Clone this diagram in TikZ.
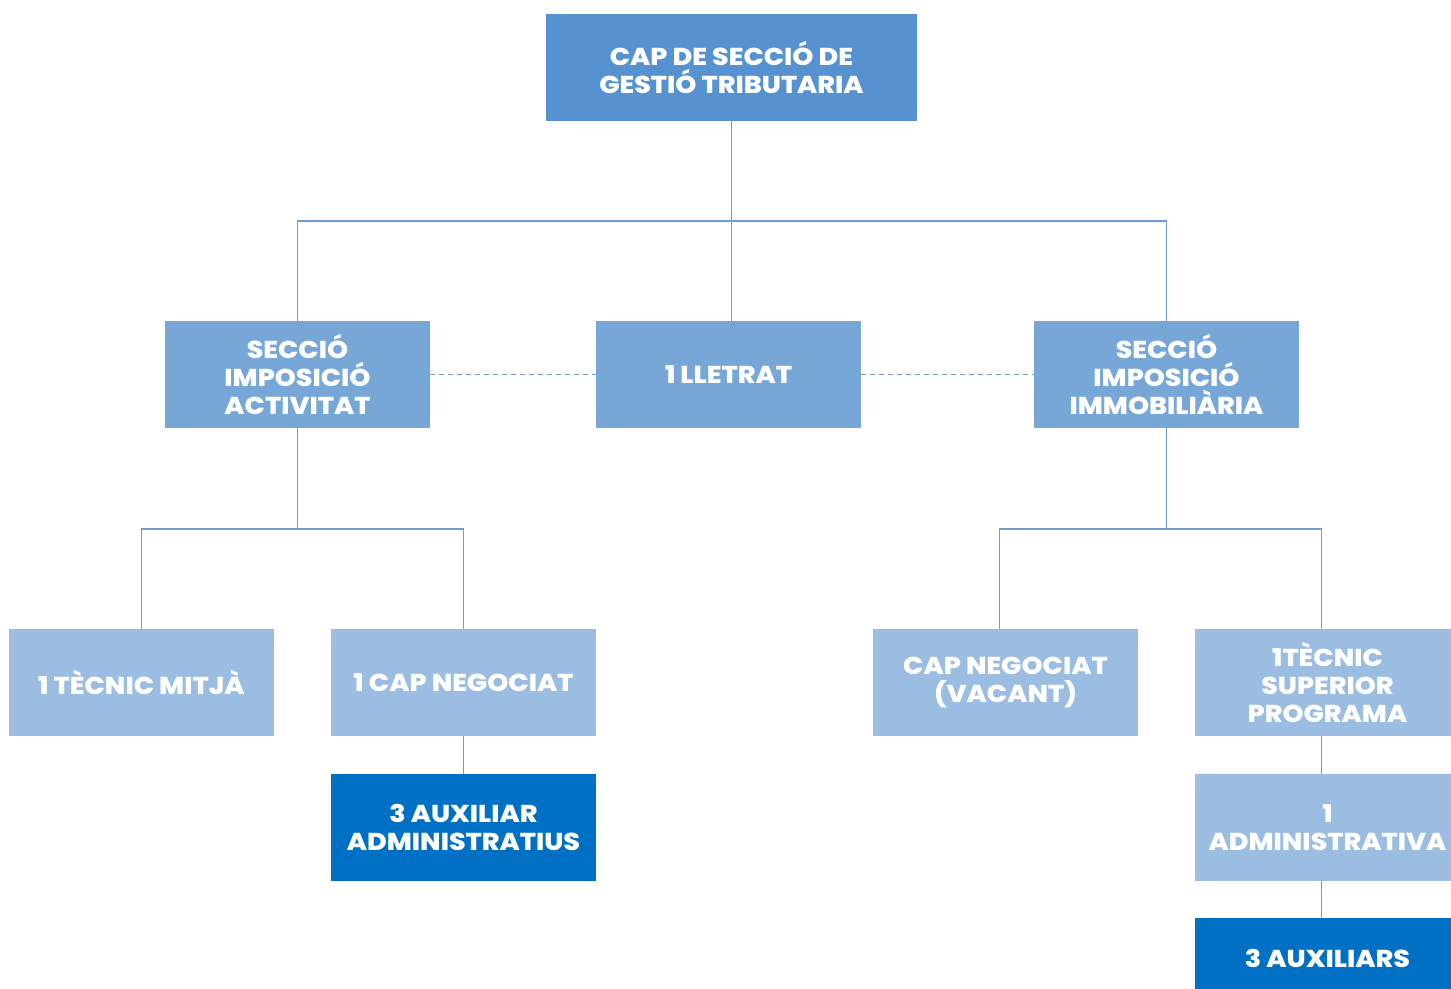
\documentclass[tikz,border=0pt]{standalone}
\usepackage{fontspec}
\setmainfont{Poppins}[UprightFont=* ExtraBold, BoldFont=* ExtraBold, FakeStretch=1.1]
\definecolor{topblue}{HTML}{5592CF}
\definecolor{midblue}{HTML}{77A7D7}
\definecolor{lowblue}{HTML}{9BBDE1}
\definecolor{darkblue}{HTML}{0070C4}
\definecolor{linkblue}{HTML}{6E9BD0}
\tikzset{
    box/.style={minimum width=132.5pt, minimum height=53.5pt, inner sep=0pt,
        text=white, align=center, font=\fontsize{12.2}{14}\selectfont},
    topbox/.style={box, fill=topblue, minimum width=185.5pt},
    midbox/.style={box, fill=midblue},
    lowbox/.style={box, fill=lowblue},
    darkbox/.style={box, fill=darkblue},
    link/.style={draw=linkblue, line width=0.6pt},
    dotlink/.style={draw=linkblue, line width=0.6pt, dash pattern=on 2.5pt off 2pt}
}

\begin{document}
\begin{tikzpicture}[x=0.5pt, y=-0.5pt]
    \useasboundingbox (0,0) rectangle (1451,989);
    \begin{scope}
    \clip (0,0) rectangle (1451,989);
    \node[topbox] (cap) at (731.5,67.5) {CAP DE SECCIÓ DE\\GESTIÓ TRIBUTARIA};
    \node[midbox] (activ) at (297.5,374.5) {SECCIÓ\\IMPOSICIÓ\\ACTIVITAT};
    \node[midbox] (lletrat) at (728.5,374.5) {1 LLETRAT};
    \node[midbox] (immob) at (1166.5,374.5) {SECCIÓ\\IMPOSICIÓ\\IMMOBILIÀRIA};
    \node[lowbox] (mitja) at (141.5,682.5) {1 TÈCNIC MITJÀ};
    \node[lowbox] (negA) at (463.5,682.5) {1 CAP NEGOCIAT};
    \node[darkbox] (auxA) at (463.5,827.5) {3 AUXILIAR\\ADMINISTRATIUS};
    \node[lowbox] (vacant) at (1005.5,682.5) {CAP NEGOCIAT\\(VACANT)};
    \node[lowbox] (superior) at (1327.5,682.5) {1TÈCNIC\\SUPERIOR\\PROGRAMA};
    \node[lowbox] (admva) at (1327.5,827.5) {1\\ADMINISTRATIVA};
    \node[darkbox, minimum height=40pt] (auxI) at (1327.5,958) {3 AUXILIARS};

    \coordinate (bus1) at (731.5,221);
    \coordinate (bus2) at (297.5,529);
    \coordinate (bus3) at (1166.5,529);

    \draw[link] (cap.south) -- (bus1);
    \draw[link] (bus1) -- (lletrat.north -| bus1);
    \draw[link] (activ.north) |- (bus1) -| (immob.north);
    \draw[link] (activ.south) -- (bus2);
    \draw[link] (mitja.north) |- (bus2) -| (negA.north);
    \draw[link] (negA) -- (auxA);
    \draw[link] (immob.south) -- (bus3);
    \draw[link] ([xshift=-3pt]vacant.north) |- (bus3) -| ([xshift=-3pt]superior.north);
    \draw[link] ([xshift=-3pt]superior.south) -- ([xshift=-3pt]admva.north);
    \draw[link] ([xshift=-3pt]admva.south) -- ([xshift=-3pt]auxI.north);

    \draw[dotlink] (activ) -- (lletrat);
    \draw[dotlink] (lletrat) -- (immob);
    \end{scope}
\end{tikzpicture}
\end{document}
